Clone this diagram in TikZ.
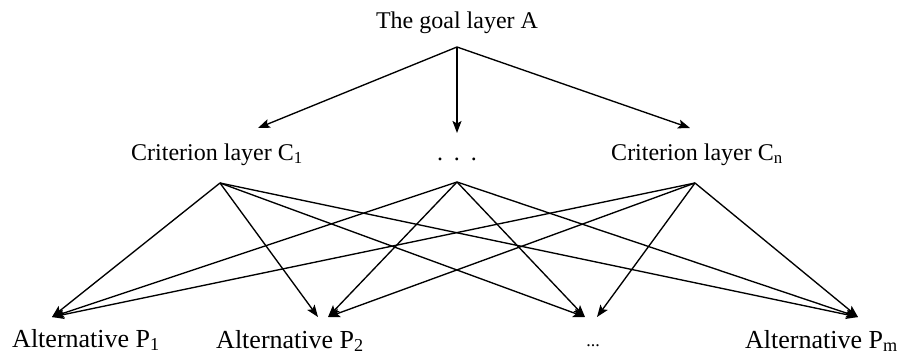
\documentclass[tikz,border=0pt]{standalone}
\usepackage{fontspec}
\setmainfont{Liberation Serif}
\usetikzlibrary{arrows.meta}
\begin{document}
\begin{tikzpicture}[x=1pt,y=-1pt,
  conn/.style={line width=1.35pt, -{Stealth[length=12pt,width=9pt,inset=2.5pt]}},
  lbl/.style={inner sep=0pt, anchor=base, font=\fontsize{24}{28}\selectfont},
  alt/.style={inner sep=0pt, anchor=base, font=\fontsize{26}{30}\selectfont}]
\useasboundingbox (0,0) rectangle (898,356);
% goal
\node[lbl] (A) at (457,28) {The goal layer A};
\coordinate (a0) at (457,47);
\coordinate (tc1) at (258,128);
\coordinate (tcd) at (457,133);
\coordinate (tcn) at (690,128);
\draw[conn] (a0) -- (tc1);
\draw[conn] (a0) -- (tcd);
\draw[conn] (a0) -- (tcn);
% criteria
\node[lbl] (C1) at (217,160) {Criterion layer C\textsubscript{1}};
\node[lbl] (Cd) at (457,160) {.\hspace{0.45em}.\hspace{0.45em}.};
\node[lbl] (Cn) at (697,160) {Criterion layer C\textsubscript{n}};
\coordinate (s1) at (220,183);
\coordinate (sd) at (457,182);
\coordinate (sn) at (695,183);
% alternatives
\node[alt] (P1) at (86,347) {Alternative P\textsubscript{1}};
\node[alt] (P2) at (290,348) {Alternative P\textsubscript{2}};
\node[alt, font=\fontsize{18}{20}\selectfont] (Pd) at (593,346) {...};
\node[alt, anchor=base west] (Pm) at (745,348) {Alternative P\textsubscript{m}};
\coordinate (e1) at (52,317);
\coordinate (e2l) at (318,317);
\coordinate (e2r) at (328,317);
\coordinate (edl) at (585,317);
\coordinate (edr) at (597,317);
\coordinate (em) at (858,317);
% connectors
\draw[conn] (s1) -- (e1);
\draw[conn] (s1) -- (e2l);
\draw[conn] (s1) -- (edl);
\draw[conn] (s1) -- (em);
\draw[conn] (sd) -- (e1);
\draw[conn] (sd) -- (e2r);
\draw[conn] (sd) -- (edl);
\draw[conn] (sd) -- (em);
\draw[conn] (sn) -- (e1);
\draw[conn] (sn) -- (e2r);
\draw[conn] (sn) -- (edr);
\draw[conn] (sn) -- (em);
\end{tikzpicture}
\end{document}
